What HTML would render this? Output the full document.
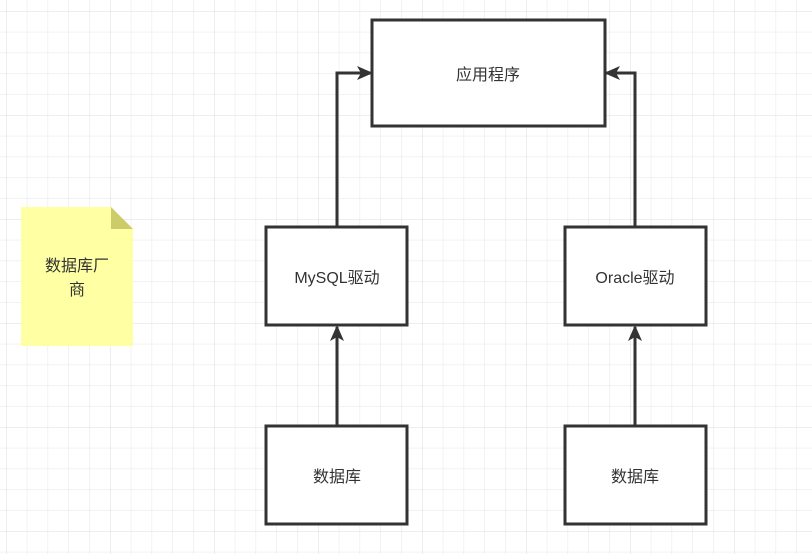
<!DOCTYPE html>
<html><head><meta charset="utf-8"><style>
html,body{margin:0;padding:0;background:#fff;}
body{width:812px;height:554px;overflow:hidden;}
svg text{font-family:"Liberation Sans","Noto Sans CJK SC",sans-serif;font-size:16px;fill:#333;}
</style></head><body>
<svg width="812" height="554" xmlns="http://www.w3.org/2000/svg">
<defs>
<pattern id="g" x="6" y="11" width="20.8" height="20.8" patternUnits="userSpaceOnUse">
<path d="M0 0H20.8M0 0V20.8" stroke="#e6e6e6" stroke-width="1" fill="none"/>
</pattern>
<pattern id="G" x="6" y="11" width="104" height="104" patternUnits="userSpaceOnUse">
<path d="M0 0H104M0 0V104" stroke="#dcdcdc" stroke-width="1" fill="none"/>
</pattern>
<marker id="a" markerWidth="16" markerHeight="14" refX="14" refY="7" orient="auto" markerUnits="userSpaceOnUse">
<path d="M0 0L16 7L0 14L4 7Z" fill="#333"/>
</marker>
</defs>
<rect width="812" height="554" fill="url(#g)"/>
<rect width="812" height="554" fill="url(#G)"/>
<g fill="#fff" stroke="#333" stroke-width="3">
<rect x="372" y="20" width="233" height="106"/>
<rect x="266" y="227" width="141" height="98"/>
<rect x="565" y="227" width="141" height="98"/>
<rect x="266" y="426" width="141" height="98"/>
<rect x="565" y="426" width="141" height="98"/>
</g>
<g fill="none" stroke="#333" stroke-width="3">
<path d="M337 227V73H371" marker-end="url(#a)"/>
<path d="M635 227V73H606" marker-end="url(#a)"/>
<path d="M337 426V327" marker-end="url(#a)"/>
<path d="M635 426V327" marker-end="url(#a)"/>
</g>
<path d="M21 207H111L133 229V346H21Z" fill="#ffff99" opacity="0.9"/>
<path d="M111 207L133 229H111Z" fill="#cccc6b"/>
<text x="488" y="80" text-anchor="middle">应用程序</text>
<text x="337" y="283" text-anchor="middle">MySQL驱动</text>
<text x="635" y="283" text-anchor="middle">Oracle驱动</text>
<text x="337" y="482" text-anchor="middle">数据库</text>
<text x="635" y="482" text-anchor="middle">数据库</text>
<text x="77" y="271" text-anchor="middle">数据库厂</text>
<text x="77" y="295" text-anchor="middle">商</text>
</svg>
</body></html>
